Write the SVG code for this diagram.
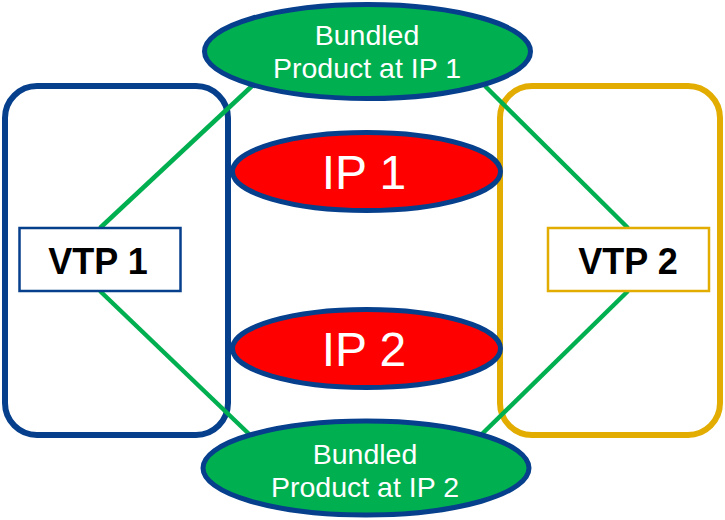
<svg xmlns="http://www.w3.org/2000/svg" width="725" height="520" viewBox="0 0 725 520">
<style>
.grp{fill:none;stroke-width:6}
.conn{stroke:#00b050;stroke-width:4.5;fill:none}
.ell{stroke:#063f8c;stroke-width:5}
.g{fill:#00b050}
.r{fill:#ff0000}
.t{font-family:"Liberation Sans",Arial,sans-serif;fill:#fff;text-anchor:middle}
.b{font-family:"Liberation Sans",Arial,sans-serif;fill:#000;font-weight:bold;text-anchor:middle;font-size:36px}
</style>
<rect width="725" height="520" fill="#fff"/>
<g id="group-vtp1"><rect class="grp" x="5" y="86" width="223" height="349" rx="32" stroke="#063f8c"/></g>
<g id="group-vtp2"><rect class="grp" x="500" y="86" width="220" height="349" rx="32" stroke="#e3ac00"/></g>
<g id="connectors">
<line class="conn" x1="100" y1="228" x2="252" y2="86"/>
<line class="conn" x1="100" y1="291" x2="249" y2="434"/>
<line class="conn" x1="628" y1="228" x2="485" y2="86"/>
<line class="conn" x1="628" y1="291" x2="482" y2="434"/>
</g>
<g id="bp1"><ellipse class="ell g" cx="367.5" cy="51.5" rx="163" ry="47"/>
<text class="t" x="367" y="45" font-size="28.5">Bundled</text>
<text class="t" x="367" y="78" font-size="28.5">Product at IP 1</text></g>
<g id="ip1"><ellipse class="ell r" cx="366.5" cy="171.5" rx="134" ry="39"/>
<text class="t" x="364" y="189" font-size="48">IP 1</text></g>
<g id="ip2"><ellipse class="ell r" cx="366.5" cy="348.5" rx="134" ry="39"/>
<text class="t" x="364" y="366" font-size="48">IP 2</text></g>
<g id="bp2"><ellipse class="ell g" cx="366" cy="468" rx="163" ry="47"/>
<text class="t" x="365" y="464" font-size="28.5">Bundled</text>
<text class="t" x="365" y="497" font-size="28.5">Product at IP 2</text></g>
<g id="vtp1"><rect x="19.5" y="228" width="161" height="63" fill="#fff" stroke="#063f8c" stroke-width="2.5"/>
<text class="b" x="98" y="274">VTP 1</text></g>
<g id="vtp2"><rect x="548" y="228" width="161" height="63" fill="#fff" stroke="#e3ac00" stroke-width="2.5"/>
<text class="b" x="628" y="274">VTP 2</text></g>
</svg>
